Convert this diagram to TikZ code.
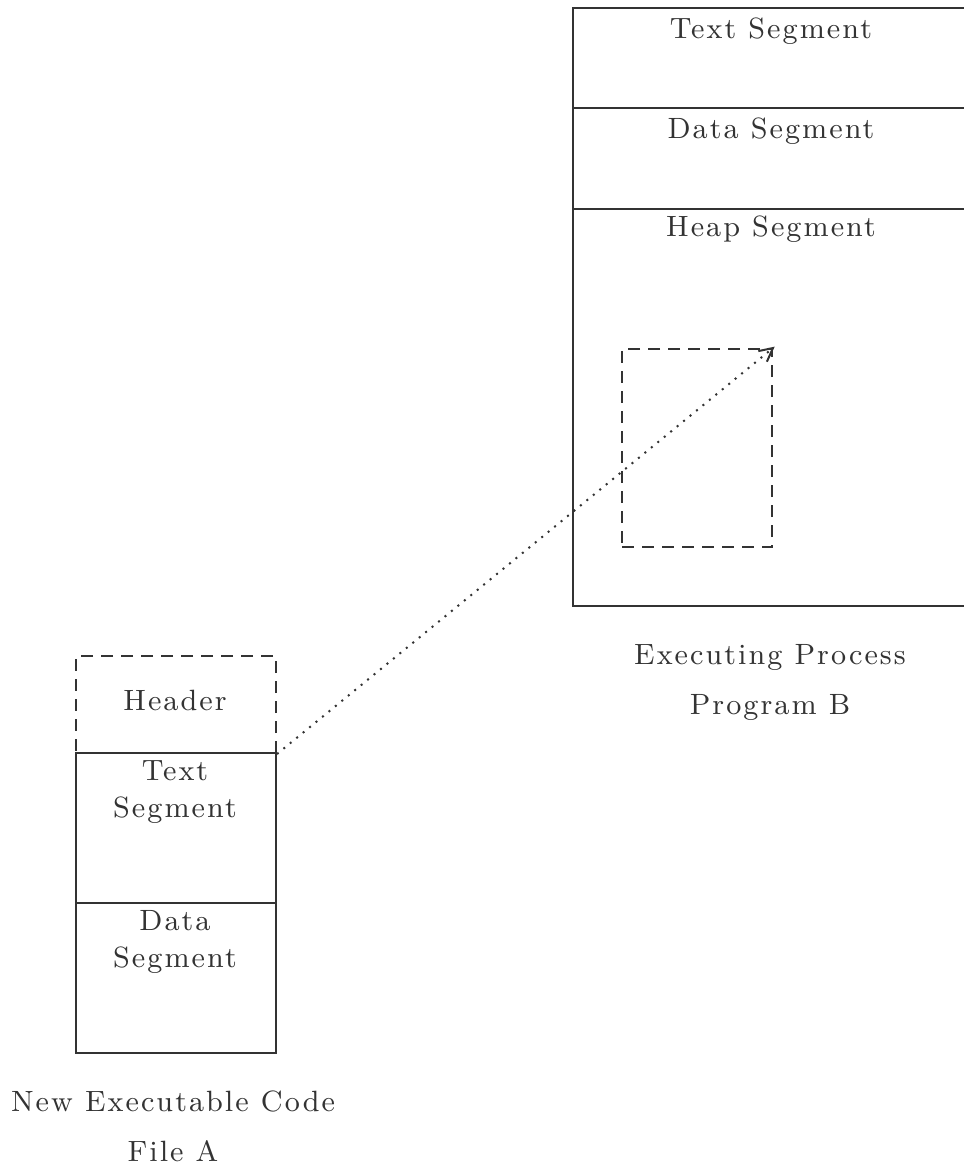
\documentclass[tikz,border=0pt]{standalone}
\usepackage{fontspec}
\setmainfont{Latin Modern Roman}[LetterSpace=7]
\begin{document}
\begin{tikzpicture}[x=0.3pt,y=-0.3pt,
  every node/.style={font=\fontsize{8.8}{12}\selectfont, text=black!80},
  seg/.style={draw=black!80, line width=0.6pt, inner sep=0pt, anchor=north west},
  ghost/.style={seg, dashed, dash pattern=on 3.6pt off 2.4pt},
  inlabel/.style={anchor=north, inner sep=0pt, align=center},
  link/.style={draw=black!80, line width=0.6pt, dash pattern=on 0.6pt off 1.9pt},
  barb/.style={draw=black!80, line width=0.6pt, solid, line join=miter}]
\useasboundingbox (0,0) rectangle (964,1164);

% executing process B
\node[seg, minimum width=118.8pt, minimum height=30pt] (btext) at (572,7) {};
\node[seg, minimum width=118.8pt, minimum height=30.3pt] (bdata) at (572,107) {};
\node[seg, minimum width=118.8pt, minimum height=119.1pt] (bheap) at (572,208) {};
\node[inlabel] (btextl) at (771,17) {Text Segment};
\node[inlabel] (bdatal) at (771,117) {Data Segment};
\node[inlabel] (bheapl) at (771,215) {Heap Segment};
\node[ghost, minimum width=45pt, minimum height=59.4pt] (slot) at (621,348) {};
\node[inlabel] (bcap) at (770,644) {Executing Process\\[3pt]Program B};

% new executable file A
\node[ghost, minimum width=60pt, minimum height=29.1pt] (ahead) at (75,655) {};
\node[seg, minimum width=60pt, minimum height=45pt] (atext) at (75,752) {};
\node[seg, minimum width=60pt, minimum height=45pt] (adata) at (75,902) {};
\node[inlabel] (aheadl) at (175,689) {Header};
\node[inlabel] (atextl) at (175,760) {Text\\[-1pt]Segment};
\node[inlabel] (adatal) at (175,910) {Data\\[-1pt]Segment};
\node[inlabel] (acap) at (173,1090) {New Executable Code\\[3pt]File A};

% loading the text segment into the heap: dotted path, open head
\draw[link] (ahead.south east) -- (slot.north east);
\draw[barb] ([shift={(114:15)}]slot.north east) -- (slot.north east)
            -- ([shift={(168:15)}]slot.north east);
\end{tikzpicture}
\end{document}
